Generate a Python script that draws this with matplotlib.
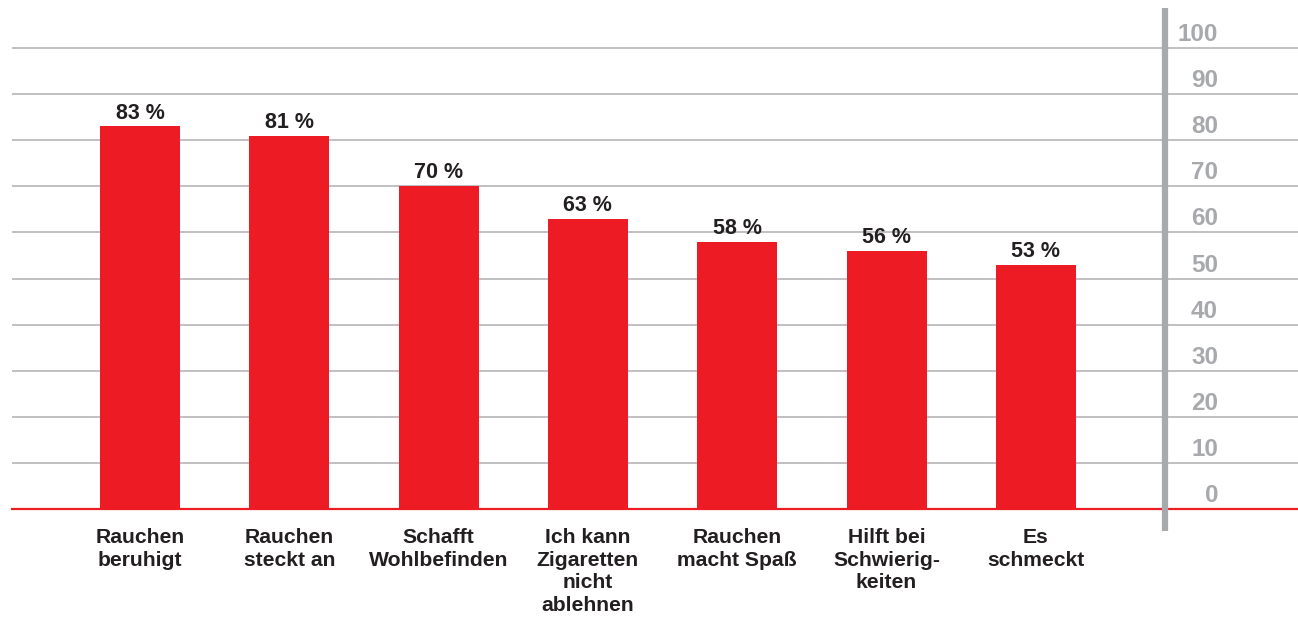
import matplotlib
matplotlib.use("Agg")
import matplotlib.pyplot as plt

categories = ["Rauchen\nberuhigt", "Rauchen\nsteckt an", "Schafft\nWohlbefinden",
              "Ich kann\nZigaretten\nnicht\nablehnen", "Rauchen\nmacht Spaß",
              "Hilft bei\nSchwierig-\nkeiten", "Es\nschmeckt"]
values = [83, 81, 70, 63, 58, 56, 53]
value_labels = ["83 %", "81 %", "70 %", "63 %", "58 %", "56 %", "53 %"]
ticks = [0, 10, 20, 30, 40, 50, 60, 70, 80, 90, 100]

RED = "#ED1C24"
GREY = "#A7A9AC"
GRID = "#B5B5B8"
DARK = "#231F20"
FONT = ["Liberation Sans", "DejaVu Sans"]

W, H = 1298, 622
fig = plt.figure(figsize=(W / 100, H / 100), dpi=100)
ax = fig.add_axes([0, 0, 1, 1])
ax.set_axis_off()

step = 149.3
x0 = 140.0
ppu = 4.61  # pixels per unit
y0 = 509.0
ax.set_xlim(-x0 / step, (W - x0) / step)
ax.set_ylim(-(H - y0) / ppu, y0 / ppu)

def px(x):
    return (x - x0) / step

xs = list(range(len(values)))
# grid lines
for t in ticks[1:]:
    ax.plot([px(12), px(W)], [t, t], color=GRID, lw=1.2, zorder=1, solid_capstyle="butt")

ax.bar(xs, values, width=80 / step, color=RED, zorder=2)

# baseline
ax.plot([px(11), px(W)], [0, 0], color=RED, lw=1.6, zorder=3, solid_capstyle="butt")

# vertical axis bar
ax.plot([px(1165), px(1165)], [-(531 - y0) / ppu, (y0 - 8) / ppu], color=GREY, lw=4.5,
        zorder=3, solid_capstyle="butt")

for t in ticks:
    ax.text(px(1218), t + 1.5, str(t), ha="right", va="baseline", color=GREY,
            fontsize=17.5, fontweight="bold", family=FONT)

for x, v, lab in zip(xs, values, value_labels):
    ax.text(x, v + 1.7, lab, ha="center", va="baseline", color=DARK,
            fontsize=15.5, fontweight="bold", family=FONT)

for x, c in zip(xs, categories):
    ax.text(x, -(528 - y0) / ppu, c, ha="center", va="top", color=DARK,
            fontsize=15.2, fontweight="bold", family=FONT, linespacing=1.25)

fig.savefig("out.png", dpi=100)
